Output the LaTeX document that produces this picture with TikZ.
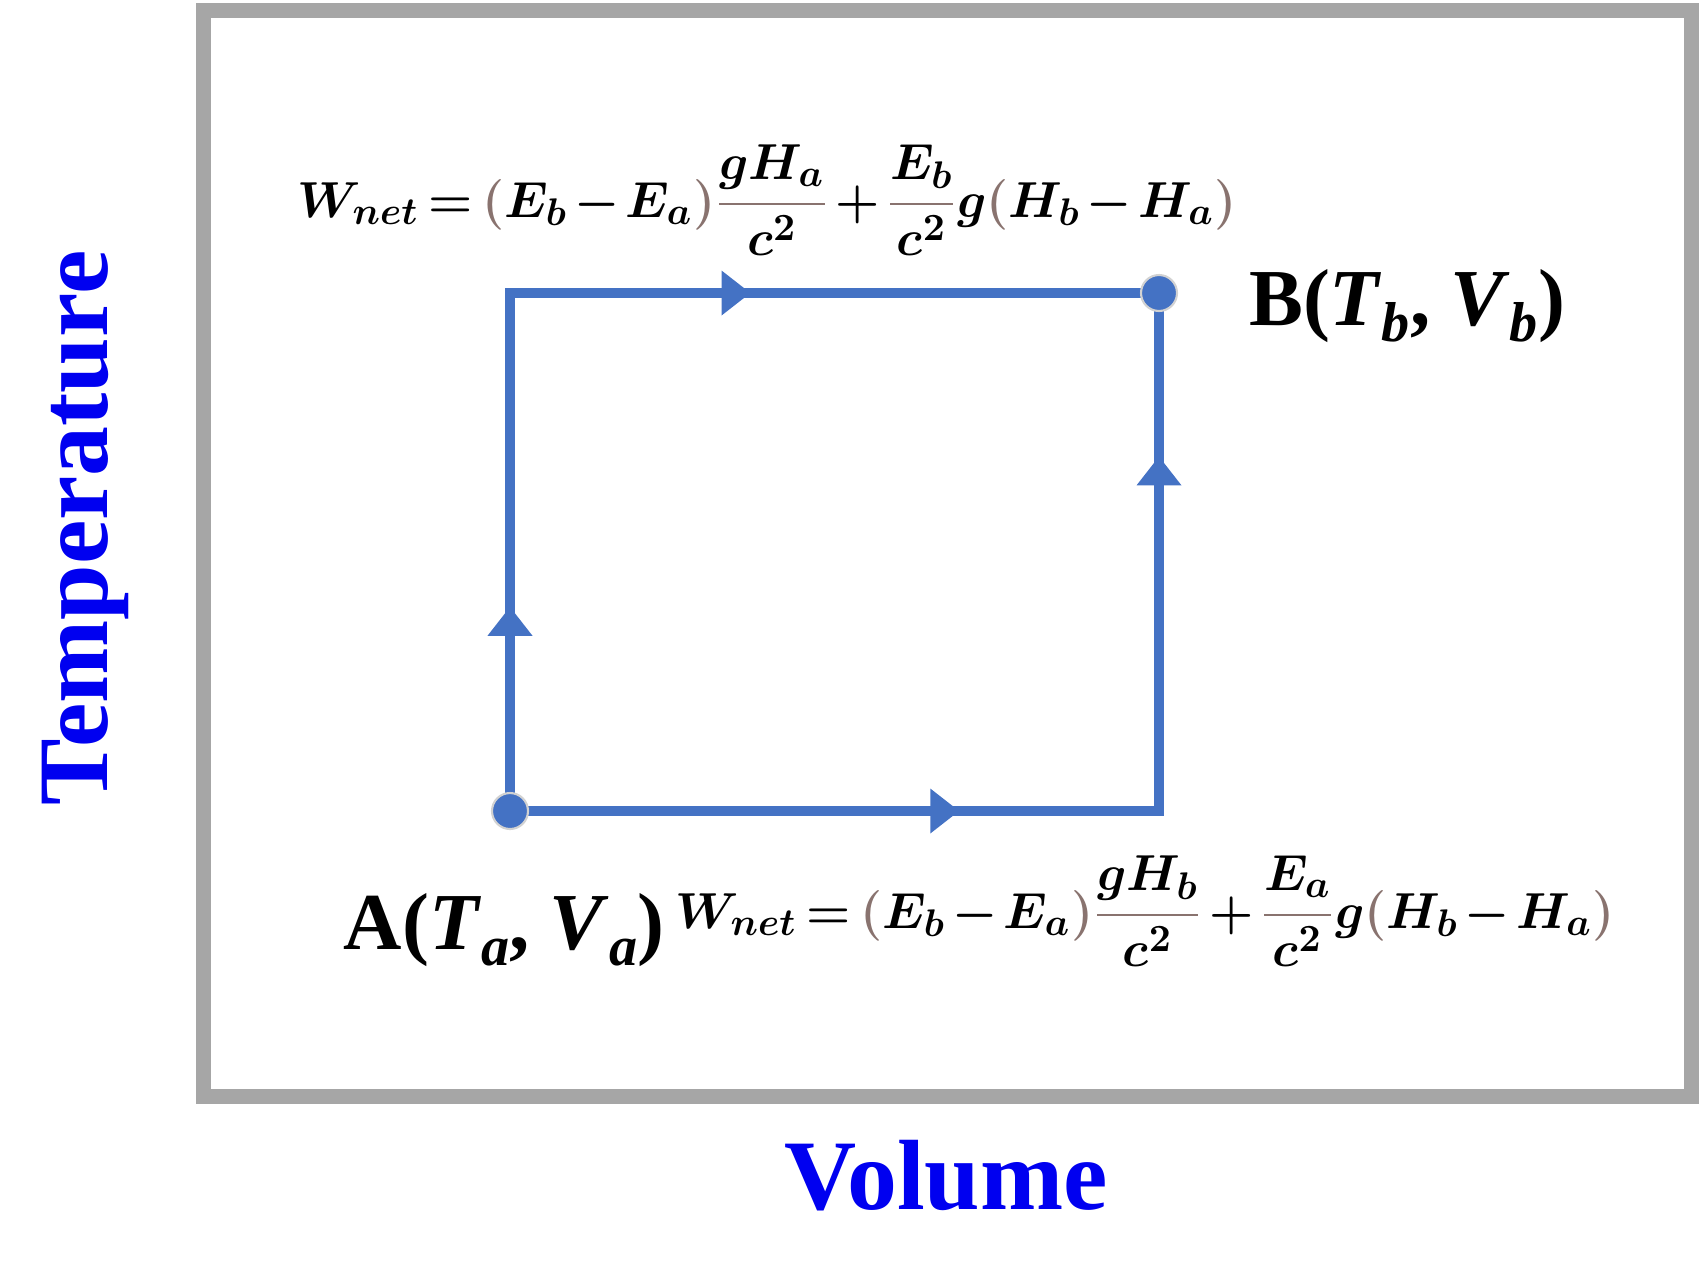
\documentclass[tikz,border=0pt]{standalone}
\usepackage{amsmath}
\usepackage{fontspec}
\setmainfont{Liberation Serif}
\usepackage{tikz}
\usetikzlibrary{arrows.meta,decorations.markings}
\usepackage{xcolor}
\definecolor{framegray}{RGB}{166,166,166}
\definecolor{cycleblue}{RGB}{68,114,196}
\definecolor{parbrown}{RGB}{137,115,111}
\definecolor{axisblue}{RGB}{0,0,240}
\newcommand{\lowsub}[1]{\raisebox{-0.2em}{\fontsize{16}{19}\selectfont\bfseries\itshape #1}}
\newcommand{\bpar}[1]{{\color{parbrown}(}#1{\color{parbrown})}}
\newcommand{\bfrac}[2]{{\color{parbrown}\dfrac{\textcolor{black}{#1}}{\textcolor{black}{#2}}}}
\newcommand{\tightmath}{\thickmuskip=3mu \medmuskip=2mu }

\begin{document}
\begin{tikzpicture}[
    >=Stealth,
    flow/.style={draw=cycleblue, line width=0.1cm, line join=miter},
    midarrows/.style 2 args={postaction={decorate}, decoration={markings,
        mark=at position #1 with {\arrow[cycleblue]{Triangle[length=0.29cm, width=0.43cm]}},
        mark=at position #2 with {\arrow[cycleblue]{Triangle[length=0.29cm, width=0.43cm]}}}},
    dot/.style={circle, fill=cycleblue, draw=gray!35, line width=0.6pt,
                minimum size=0.36cm, inner sep=0pt},
    axis/.style={text=axisblue, font=\fontsize{28.4}{34}\selectfont\bfseries},
    ptlabel/.style={font=\fontsize{23}{28}\selectfont\bfseries, inner sep=0pt},
    eqn/.style={font=\fontsize{15}{18}\selectfont\boldmath\tightmath, inner sep=0pt},
  ]
  \useasboundingbox (0,0) rectangle (17,-12.81);
  \draw[framegray, line width=0.15cm] (2.03,-0.10) rectangle (16.91,-10.96);
  \node[axis, rotate=90] (temp) at (0.85,-5.28) {Temperature};
  \node[axis] (vol) at (9.46,-11.76) {Volume};
  \coordinate (A)  at (5.10,-8.11);
  \coordinate (B)  at (11.59,-2.93);
  \coordinate (tl) at (5.10,-2.93);
  \coordinate (br) at (11.59,-8.11);
  \draw[flow, midarrows={0.175}{0.65}] (A) -- (tl) -- (B);
  \draw[flow, midarrows={0.385}{0.86}] (A) -- (br) -- (B);
  \node[dot] (dotA) at (A) {};
  \node[dot] (dotB) at (B) {};
  \node[ptlabel] (labA) at (5.04,-9.30)
    {A(\textit{T}\lowsub{a}, \textit{V}\lowsub{a})};
  \node[ptlabel] (labB) at (14.07,-3.06)
    {B(\textit{T}\lowsub{b}, \textit{V}\lowsub{b})};
  \node[eqn] (wtop) at (7.67,-2.00)
    {$W_{net} = \bpar{E_b - E_a}\bfrac{gH_a}{c^2} + \bfrac{E_b}{c^2}g\bpar{H_b - H_a}$};
  \node[eqn] (wbot) at (11.45,-9.11)
    {$W_{net} = \bpar{E_b - E_a}\bfrac{gH_b}{c^2} + \bfrac{E_a}{c^2}g\bpar{H_b - H_a}$};
\end{tikzpicture}
\end{document}
